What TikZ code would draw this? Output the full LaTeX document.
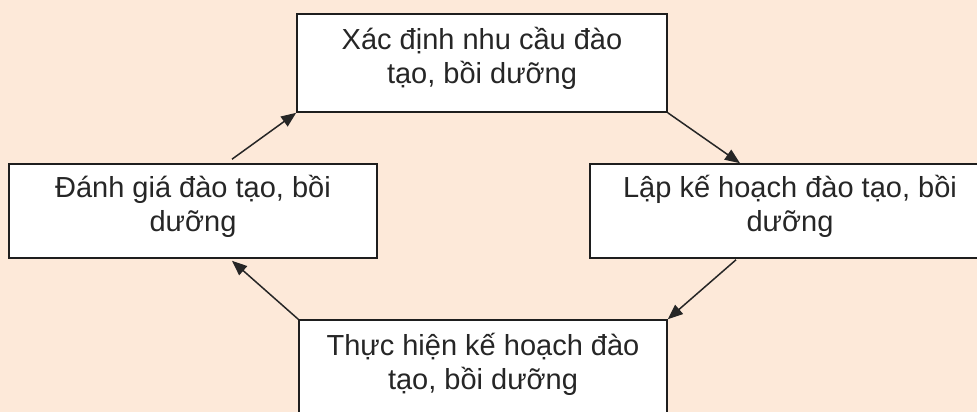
\documentclass[tikz,border=0pt]{standalone}
\usepackage{fontspec}
\setmainfont{Liberation Sans}
\usetikzlibrary{arrows.meta}
\definecolor{peach}{RGB}{253,233,217}
\definecolor{edge}{RGB}{30,30,30}
% first-line height and last-line depth, so both lines sit at fixed places
\newcommand{\topstrut}{\rule{0pt}{30pt}}
\newcommand{\botstrut}{\rule[-22pt]{0pt}{22pt}}
\begin{document}
\begin{tikzpicture}[x=1pt,y=1pt,
  stage/.style={draw=edge, line width=1.6pt, fill=white, rectangle,
    inner sep=2pt, align=center, text=black!85,
    font=\fontsize{29pt}{34pt}\selectfont},
  flow/.style={draw=black!85, line width=1.5pt,
    -{Triangle[length=15pt,width=12pt]}}]
  \useasboundingbox (0,0) rectangle (977,412);
  \fill[peach] (0,0) rectangle (977,412);
  \clip (0,0) rectangle (977,412);

  \node[stage, minimum width=370pt, minimum height=98pt] (T) at (482,349)
    {\topstrut Xác định nhu cầu đào\\tạo, bồi dưỡng\botstrut};
  \node[stage, minimum width=368pt, minimum height=94pt] (L) at (193,201)
    {\topstrut Đánh giá đào tạo, bồi\\dưỡng\botstrut};
  \node[stage, minimum width=400pt, minimum height=94pt] (R) at (790,201)
    {\topstrut Lập kế hoạch đào tạo, bồi\\dưỡng\botstrut};
  \node[stage, minimum width=368pt, minimum height=98pt] (B) at (483,43)
    {\topstrut Thực hiện kế hoạch đào\\tạo, bồi dưỡng\botstrut};

  \draw[flow] ([xshift=39pt,yshift=4pt]L.north) -- (T.south west);
  \draw[flow] (T.south east) -- ([xshift=-50pt]R.north);
  \draw[flow] ([xshift=-54pt,yshift=-1pt]R.south) -- (B.north east);
  \draw[flow] (B.north west) -- ([xshift=39pt,yshift=-2pt]L.south);
\end{tikzpicture}
\end{document}
